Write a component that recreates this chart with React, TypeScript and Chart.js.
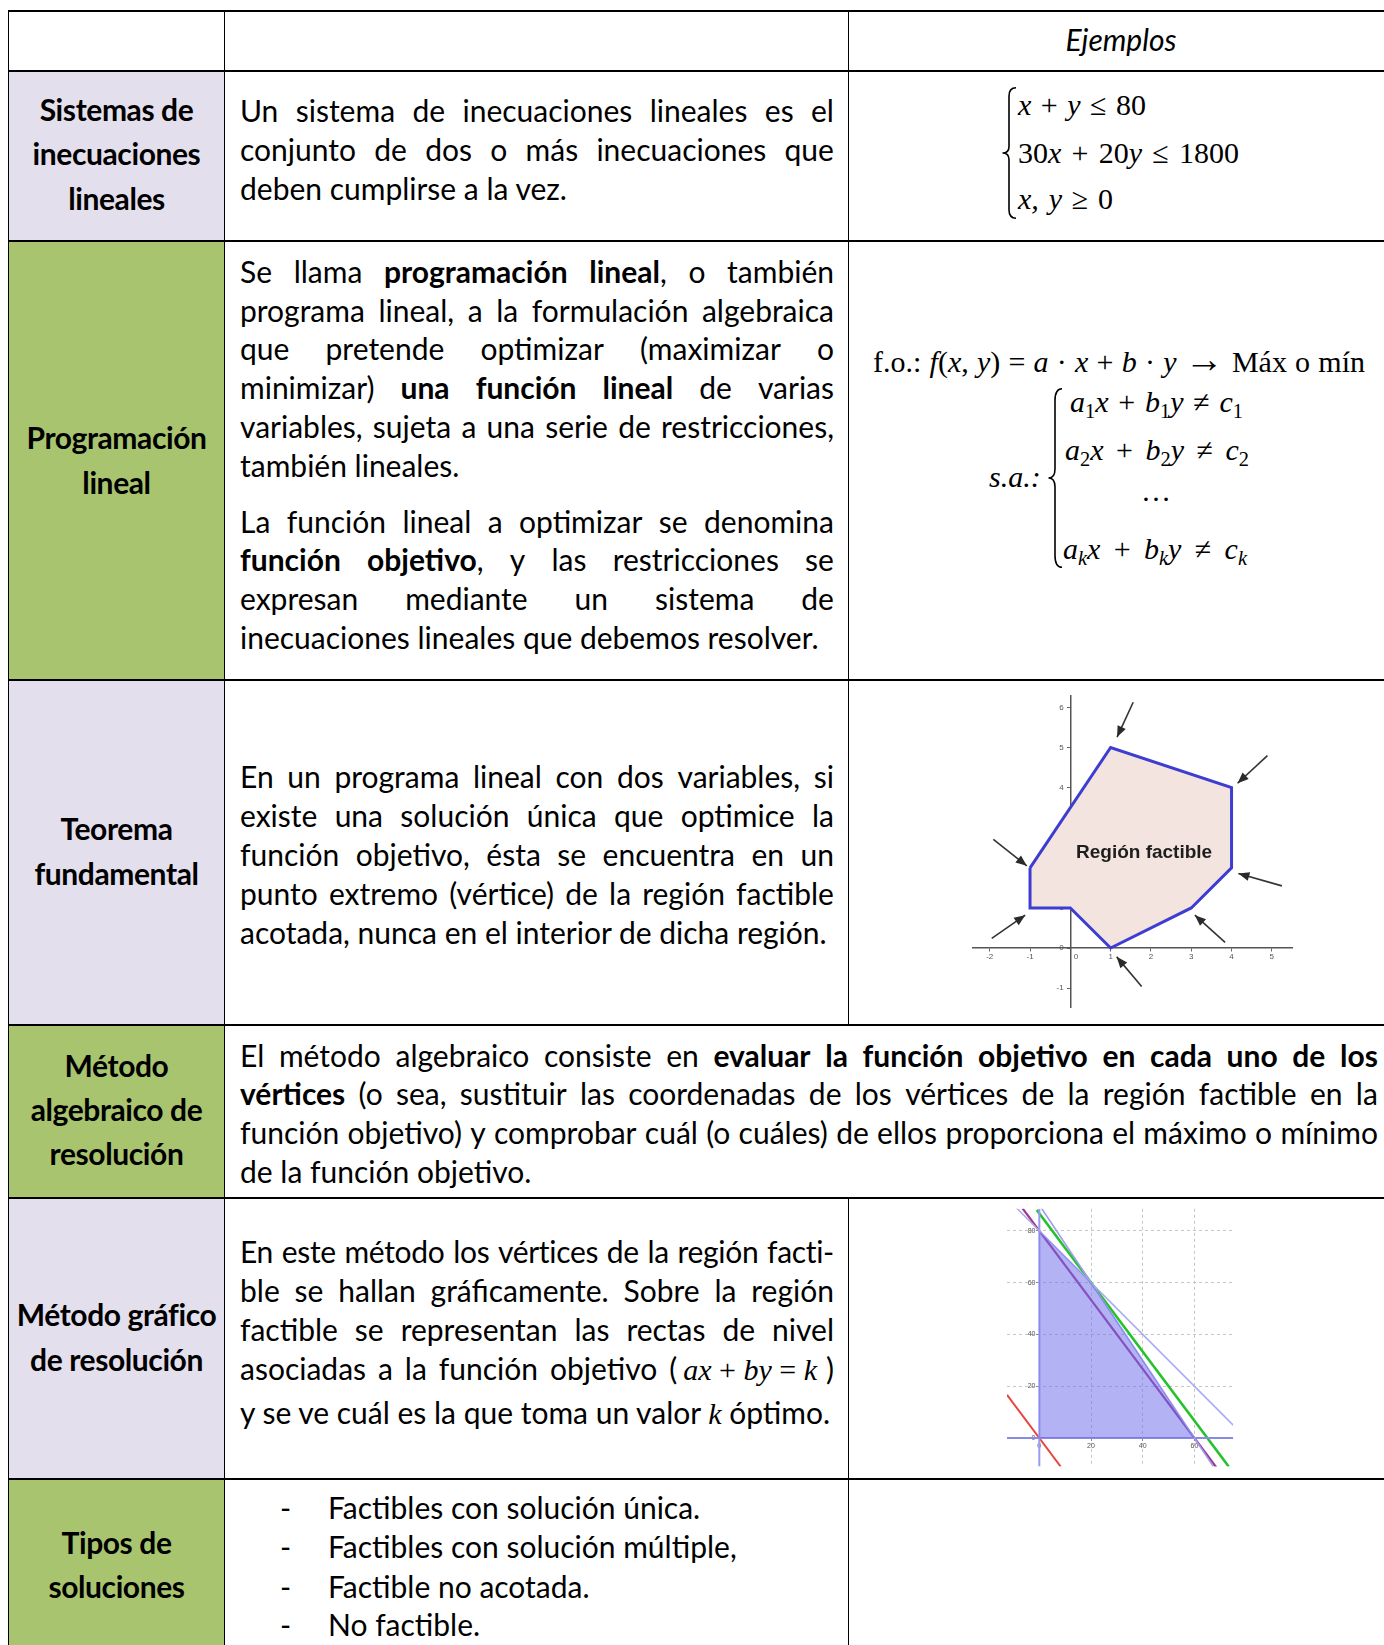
import React, { useEffect, useRef } from 'react';
import { Chart, registerables } from 'chart.js';
Chart.register(...registerables);
Chart.defaults.font.family = "'Liberation Sans', Arial, sans-serif";

// ---------- Chart 1: Región factible (Teorema fundamental) ----------
const POLY_X = [-1, 1, 4, 4, 3, 1, 0, -1, -1];
const POLY_Y = [2, 5, 4, 2, 1, 0, 1, 1, 2];
const ARROW_FROM_X = [1.56, 4.89, -1.91, 5.25, 3.84, 1.77, -1.95];
const ARROW_FROM_Y = [6.13, 4.8, 2.71, 1.55, 0.14, -0.96, 0.24];
const ARROW_TO_X = [1.16, 4.15, -1.08, 4.17, 3.09, 1.15, -1.12];
const ARROW_TO_Y = [5.26, 4.11, 2.05, 1.86, 0.82, -0.22, 0.82];
const FEAS_X_TICKS = [-2, -1, 0, 1, 2, 3, 4, 5];
const FEAS_Y_TICKS = [-1, 0, 1, 2, 3, 4, 5, 6];
const FEAS_X_RANGE = [-2.41, 5.52];
const FEAS_Y_RANGE = [-1.47, 6.3];
const FEAS_LABEL = 'Región factible';
const FEAS_LABEL_AT = [1.83, 2.37];

// ---------- Chart 2: Método gráfico ----------
const REGION_X = [0, 0, 20, 60, 0];
const REGION_Y = [0, 80, 60, 0, 0];
const C1_X = [-9, 75]; // x + y = 80
const C1_Y = [89, 5];
const C2_X = [0.5, 68]; // 3x + 2y = 180
const C2_Y = [89.25, -12];
const K240_X = [-6.5, 68.5]; // 4x + 3y = 240
const K240_Y = [88.67, -11.33];
const K260_X = [-1, 73.25]; // 4x + 3y = 260
const K260_Y = [88, -11];
const K0_X = [-12.5, 8.25]; // 4x + 3y = 0
const K0_Y = [16.67, -11];
const AXIS_X_X = [-12.5, 75];
const AXIS_X_Y = [0, 0];
const AXIS_Y_X = [0, 0];
const AXIS_Y_Y = [-11, 88.5];
const GRAF_X_TICKS = [0, 20, 40, 60];
const GRAF_Y_TICKS = [0, 20, 40, 60, 80];
const GRAF_X_RANGE = [-12.5, 75];
const GRAF_Y_RANGE = [-11, 88.5];

const pts = (xs: number[], ys: number[]) => xs.map((x, i) => ({ x, y: ys[i] }));

const SANS = "Lato, 'Noto Sans', sans-serif";
const SERIF = "'Liberation Serif', 'Times New Roman', serif";
const FS = 30;
const LAV = '#E4DFEC';
const GRN = '#A9C46F';

const arrowHeads = {
  id: 'arrowHeads',
  afterDatasetsDraw(chart: any) {
    const { ctx } = chart;
    const xs = chart.scales.x;
    const ys = chart.scales.y;
    ctx.save();
    ctx.fillStyle = '#2a2a2a';
    ARROW_TO_X.forEach((tx, i) => {
      const x1 = xs.getPixelForValue(tx);
      const y1 = ys.getPixelForValue(ARROW_TO_Y[i]);
      const x0 = xs.getPixelForValue(ARROW_FROM_X[i]);
      const y0 = ys.getPixelForValue(ARROW_FROM_Y[i]);
      const a = Math.atan2(y1 - y0, x1 - x0);
      const len = 11;
      const half = 4.5;
      const bx = x1 - len * Math.cos(a);
      const by = y1 - len * Math.sin(a);
      ctx.beginPath();
      ctx.moveTo(x1, y1);
      ctx.lineTo(bx + half * Math.sin(a), by - half * Math.cos(a));
      ctx.lineTo(bx - half * Math.sin(a), by + half * Math.cos(a));
      ctx.closePath();
      ctx.fill();
    });
    ctx.restore();
  },
};

const regionLabel = {
  id: 'regionLabel',
  afterDatasetsDraw(chart: any) {
    const { ctx } = chart;
    const px = chart.scales.x.getPixelForValue(FEAS_LABEL_AT[0]);
    const py = chart.scales.y.getPixelForValue(FEAS_LABEL_AT[1]);
    ctx.save();
    ctx.font = "bold 19px 'Liberation Sans', Arial, sans-serif";
    ctx.fillStyle = '#1e1e1e';
    ctx.textAlign = 'center';
    ctx.textBaseline = 'middle';
    ctx.fillText(FEAS_LABEL, px, py);
    ctx.restore();
  },
};

function FeasibleChart() {
  const ref = useRef<HTMLCanvasElement | null>(null);
  useEffect(() => {
    if (!ref.current) return;
    const arrows = ARROW_FROM_X.map((x0, i) => ({
      data: [
        { x: x0, y: ARROW_FROM_Y[i] },
        { x: ARROW_TO_X[i], y: ARROW_TO_Y[i] },
      ],
      showLine: true,
      borderColor: '#333',
      borderWidth: 1.6,
      pointRadius: 0,
      fill: false,
    }));
    const chart = new Chart(ref.current, {
      type: 'scatter',
      data: {
        datasets: [
          {
            data: pts(POLY_X, POLY_Y),
            showLine: true,
            fill: 'shape',
            backgroundColor: '#F3E4E0',
            borderColor: '#3D3DD2',
            borderWidth: 3,
            pointRadius: 0,
            borderJoinStyle: 'miter',
          },
          ...arrows,
        ],
      } as any,
      options: {
        animation: false,
        responsive: false,
        devicePixelRatio: 1,
        events: [],
        layout: { padding: { left: 10.2, right: 10.2, top: 10.4, bottom: 10 } },
        plugins: { legend: { display: false }, tooltip: { enabled: false } },
        scales: {
          x: {
            type: 'linear',
            min: FEAS_X_RANGE[0],
            max: FEAS_X_RANGE[1],
            position: { y: 0 },
            afterBuildTicks: (axis: any) => {
              axis.ticks = FEAS_X_TICKS.map((v) => ({ value: v }));
            },
            grid: { drawOnChartArea: false, tickLength: 3, color: '#666' },
            border: { color: '#555', width: 1.5 },
            ticks: {
              autoSkip: false,
              maxRotation: 0,
              padding: 1,
              color: '#555',
              font: { size: 8 },
              callback: (v: any) => (v === 0 ? '     0' : String(v)),
            },
          },
          y: {
            type: 'linear',
            min: FEAS_Y_RANGE[0],
            max: FEAS_Y_RANGE[1],
            position: { x: 0 },
            afterBuildTicks: (axis: any) => {
              axis.ticks = FEAS_Y_TICKS.map((v) => ({ value: v }));
            },
            grid: { drawOnChartArea: false, tickLength: 3, color: '#666' },
            border: { color: '#555', width: 1.5 },
            ticks: {
              autoSkip: false,
              color: '#555',
              font: { size: 8 },
              callback: (v: any) => String(v) + '   ',
            },
          },
        },
      } as any,
      plugins: [arrowHeads, regionLabel],
    });
    return () => chart.destroy();
  }, []);
  return (
    <canvas
      ref={ref}
      width={340}
      height={332}
      style={{ position: 'absolute', left: 963, top: 685, width: 340, height: 332 }}
    />
  );
}

function GraphChart() {
  const ref = useRef<HTMLCanvasElement | null>(null);
  useEffect(() => {
    if (!ref.current) return;
    const line = (xs: number[], ys: number[], color: string, w: number) => ({
      data: pts(xs, ys),
      showLine: true,
      borderColor: color,
      borderWidth: w,
      pointRadius: 0,
      fill: false,
    });
    const gridColor = (c: any) => (c.tick && c.tick.value === 0 ? 'rgba(0,0,0,0)' : '#c6c6c6');
    const chart = new Chart(ref.current, {
      type: 'scatter',
      data: {
        datasets: [
          {
            data: pts(REGION_X, REGION_Y),
            showLine: true,
            fill: 'shape',
            backgroundColor: 'rgba(108,108,236,0.52)',
            borderColor: 'rgba(0,0,0,0)',
            borderWidth: 0,
            pointRadius: 0,
          },
          line(C1_X, C1_Y, '#aeaaf0', 1.6),
          line(C2_X, C2_Y, '#9c9cf0', 1.6),
          line(AXIS_X_X, AXIS_X_Y, '#8a8ae6', 2),
          line(AXIS_Y_X, AXIS_Y_Y, '#9a9aee', 2),
          line(K240_X, K240_Y, '#a0368e', 2.2),
          line(K260_X, K260_Y, '#25c22c', 2.6),
          line(K0_X, K0_Y, '#e8453f', 2),
        ],
      } as any,
      options: {
        animation: false,
        responsive: false,
        devicePixelRatio: 1,
        events: [],
        layout: { padding: { left: 10, right: 9.8, top: 8.8, bottom: 8.5 } },
        plugins: { legend: { display: false }, tooltip: { enabled: false } },
        scales: {
          x: {
            type: 'linear',
            min: GRAF_X_RANGE[0],
            max: GRAF_X_RANGE[1],
            position: { y: 0 },
            afterBuildTicks: (axis: any) => {
              axis.ticks = GRAF_X_TICKS.map((v) => ({ value: v }));
            },
            grid: { color: gridColor, tickLength: 3, tickColor: '#888', lineWidth: 1 },
            border: { display: false, dash: [3, 3] },
            ticks: { autoSkip: false, maxRotation: 0, padding: 1, color: '#555', font: { size: 7 } },
          },
          y: {
            type: 'linear',
            min: GRAF_Y_RANGE[0],
            max: GRAF_Y_RANGE[1],
            position: { x: 0 },
            afterBuildTicks: (axis: any) => {
              axis.ticks = GRAF_Y_TICKS.map((v) => ({ value: v }));
            },
            grid: { color: gridColor, tickLength: 3, tickColor: '#888', lineWidth: 1 },
            border: { display: false, dash: [3, 3] },
            ticks: {
              autoSkip: false,
              color: '#555',
              font: { size: 7 },
              callback: (v: any) => String(v) + '  ',
            },
          },
        },
      } as any,
    });
    return () => chart.destroy();
  }, []);
  return (
    <canvas
      ref={ref}
      width={246}
      height={275}
      style={{ position: 'absolute', left: 997, top: 1200, width: 246, height: 275 }}
    />
  );
}

// ---------- text helpers ----------
const lineBox = (y: number, x: number, w: number) =>
  ({
    position: 'absolute',
    left: x,
    top: y - 19,
    width: w,
    height: 36,
    lineHeight: '36px',
    fontFamily: SANS,
    fontSize: FS,
    color: '#000',
    whiteSpace: 'nowrap',
  } as any);

// left-aligned / centred line
function Ln({ y, x = 240, w = 594, c, center = false, italic = false }: any) {
  return (
    <div style={{ ...lineBox(y, x, w), textAlign: center ? 'center' : 'left', fontStyle: italic ? 'italic' : 'normal' }}>
      {c}
    </div>
  );
}

// justified line: words spread with flex space-between
function J({ y, x = 240, w = 594, words, ls = 0 }: any) {
  const list = typeof words === 'string' ? words.split(' ') : words;
  return (
    <div style={{ ...lineBox(y, x, w), display: 'flex', justifyContent: 'space-between', letterSpacing: ls }}>
      {list.map((wd: any, i: number) => (
        <span key={i}>{wd}</span>
      ))}
    </div>
  );
}
const B = (s: string) => <b>{s}</b>;
const sp = (s: string) => s.split(' ');

function Lbl({ y, c }: any) {
  return (
    <div
      style={{
        position: 'absolute',
        left: 9,
        width: 215,
        top: y - 21,
        height: 40,
        lineHeight: '40px',
        textAlign: 'center',
        fontFamily: SANS,
        fontWeight: 700,
        fontSize: FS,
        letterSpacing: -0.4,
        color: '#000',
        whiteSpace: 'nowrap',
      }}
    >
      {c}
    </div>
  );
}

function ML({ b, x, w, j = false, center = false, c }: any) {
  const align = j ? 'justify' : center ? 'center' : 'left';
  return (
    <div
      style={{
        position: 'absolute',
        left: x,
        top: b - 30.1,
        width: w,
        height: 40,
        lineHeight: '40px',
        fontFamily: SERIF,
        fontSize: 30,
        color: '#000',
        textAlign: align as any,
        textAlignLast: align as any,
      }}
    >
      {c}
    </div>
  );
}

const I = ({ c }: any) => <span style={{ fontStyle: 'italic' }}>{c}</span>;
const Sub = ({ c }: any) => (
  <span style={{ fontSize: '0.68em', position: 'relative', top: '0.28em' }}>{c}</span>
);

function Brace({ x, y, w, h }: any) {
  const m = h / 2;
  const cx = w * 0.5;
  const d = `M ${w} 0.8 Q ${cx} 0.8 ${cx} ${h * 0.07} L ${cx} ${m - h * 0.05} Q ${cx} ${m} 0.5 ${m} Q ${cx} ${m} ${cx} ${m + h * 0.05} L ${cx} ${h - h * 0.07} Q ${cx} ${h - 0.8} ${w} ${h - 0.8}`;
  return (
    <svg style={{ position: 'absolute', left: x, top: y }} width={w} height={h}>
      <path d={d} fill="none" stroke="#000" strokeWidth={1.6} />
    </svg>
  );
}

const HLINES = [10, 70, 240, 679, 1024, 1197, 1478];
const LIST_ITEMS = ['Factibles con solución única.', 'Factibles con solución múltiple,', 'Factible no acotada.', 'No factible.'];
const LIST_Y = [1507.9, 1546.7, 1586.5, 1625.4];

export default function App() {
  const bgRows = [
    { t: 72, b: 240, c: LAV },
    { t: 242, b: 679, c: GRN },
    { t: 681, b: 1024, c: LAV },
    { t: 1026, b: 1197, c: GRN },
    { t: 1199, b: 1478, c: LAV },
    { t: 1480, b: 1645, c: GRN },
  ];
  const mathSerif = { fontFamily: SERIF, fontStyle: 'italic', fontSize: 30 } as any;
  return (
    <div
      style={{
        position: 'absolute',
        left: 0,
        top: 0,
        width: 1384,
        height: 1645,
        overflow: 'hidden',
        background: '#fff',
      }}
    >
      {bgRows.map((r, i) => (
        <div
          key={'bg' + i}
          style={{ position: 'absolute', left: 9, top: r.t, width: 215, height: r.b - r.t, background: r.c }}
        />
      ))}
      {HLINES.map((y, i) => (
        <div
          key={'h' + i}
          style={{ position: 'absolute', left: 8, top: y, width: 1400, height: 2, background: '#000' }}
        />
      ))}
      <div style={{ position: 'absolute', left: 8, top: 10, width: 1, height: 1640, background: '#000' }} />
      <div style={{ position: 'absolute', left: 224, top: 10, width: 1, height: 1640, background: '#000' }} />
      <div style={{ position: 'absolute', left: 848, top: 10, width: 1, height: 1015, background: '#000' }} />
      <div style={{ position: 'absolute', left: 848, top: 1197, width: 1, height: 450, background: '#000' }} />

      {/* header */}
      <Ln y={39.9} x={849} w={544} center italic c="Ejemplos" />

      {/* row 1 */}
      <Lbl y={110.2} c="Sistemas de" />
      <Lbl y={154.2} c="inecuaciones" />
      <Lbl y={199.4} c="lineales" />
      <J y={111.2} words="Un sistema de inecuaciones lineales es el" />
      <J y={150.1} words="conjunto de dos o más inecuaciones que" />
      <Ln y={188.9} c="deben cumplirse a la vez." />
      <Brace x={1002} y={87} w={14} h={132} />
      <ML b={115} x={1018} w={128} j c={<><I c="x" /> + <I c="y" /> ≤ 80</>} />
      <ML b={163} x={1018} w={221} j c={<>30<I c="x" /> + 20<I c="y" /> ≤ 1800</>} />
      <ML b={209.5} x={1018} w={95} j c={<><I c="x," /> <I c="y" /> ≥ 0</>} />

      {/* row 2 */}
      <Lbl y={437.6} c="Programación" />
      <Lbl y={482.7} c="lineal" />
      <J y={271.8} words={['Se', 'llama', B('programación'), <><b>lineal</b>,</>, 'o', 'también']} />
      <J y={310.6} words="programa lineal, a la formulación algebraica" />
      <J y={349.4} words="que pretende optimizar (maximizar o" />
      <J y={388.2} words={['minimizar)', B('una'), B('función'), B('lineal'), 'de', 'varias']} />
      <J y={427.1} words="variables, sujeta a una serie de restricciones," />
      <Ln y={465.9} c="también lineales." />
      <J y={521.5} words="La función lineal a optimizar se denomina" />
      <J y={560.3} words={[B('función'), <><b>objetivo</b>,</>, 'y', 'las', 'restricciones', 'se']} />
      <J y={599.2} words="expresan mediante un sistema de" />
      <Ln y={638} c="inecuaciones lineales que debemos resolver." />
      <ML
        b={372}
        x={873}
        w={492}
        j
        c={
          <>
            f.o.: <I c="f" />(<I c="x" />, <I c="y" />) = <I c="a" /> · <I c="x" /> + <I c="b" /> · <I c="y" />{' '}
            <span style={{ fontSize: '1.3em', lineHeight: 0 }}>→</span> Máx o mín
          </>
        }
      />
      <ML b={487} x={989} w={60} c={<I c="s.a.:" />} />
      <Brace x={1048} y={388} w={14} h={180} />
      <ML b={412} x={1070} w={173} j c={<><I c="a" /><Sub c="1" /><I c="x" /> + <I c="b" /><Sub c="1" /><I c="y" /> ≠ <I c="c" /><Sub c="1" /></>} />
      <ML b={460} x={1065} w={184} j c={<><I c="a" /><Sub c="2" /><I c="x" /> + <I c="b" /><Sub c="2" /><I c="y" /> ≠ <I c="c" /><Sub c="2" /></>} />
      <ML b={501} x={1116} w={80} center c="…" />
      <ML b={559} x={1063} w={184} j c={<><I c="a" /><Sub c={<i>k</i>} /><I c="x" /> + <I c="b" /><Sub c={<i>k</i>} /><I c="y" /> ≠ <I c="c" /><Sub c={<i>k</i>} /></>} />

      {/* row 3 */}
      <Lbl y={829} c="Teorema" />
      <Lbl y={874} c="fundamental" />
      <J y={776.5} words="En un programa lineal con dos variables, si" />
      <J y={816.4} words="existe una solución única que optimice la" />
      <J y={855.2} words="función objetivo, ésta se encuentra en un" />
      <J y={894} words="punto extremo (vértice) de la región factible" />
      <Ln y={932.8} c="acotada, nunca en el interior de dicha región." />

      {/* row 4 */}
      <Lbl y={1066} c="Método" />
      <Lbl y={1110.2} c="algebraico de" />
      <Lbl y={1154.2} c="resolución" />
      <J
        y={1055.6}
        w={1138}
        words={[...sp('El método algebraico consiste en'), ...sp('evaluar la función objetivo en cada uno de los').map(B)]}
      />
      <J
        y={1094.4}
        w={1138}
        words={[B('vértices'), ...sp('(o sea, sustituir las coordenadas de los vértices de la región factible en la')]}
      />
      <J y={1133.2} w={1138} words="función objetivo) y comprobar cuál (o cuáles) de ellos proporciona el máximo o mínimo" />
      <Ln y={1172.1} w={1138} c="de la función objetivo." />

      {/* row 5 */}
      <Lbl y={1314.8} c="Método gráfico" />
      <Lbl y={1359.9} c="de resolución" />
      <J y={1251.8} ls={-0.3} words="En este método los vértices de la región facti-" />
      <J y={1290.6} words="ble se hallan gráficamente. Sobre la región" />
      <J y={1329.5} words="factible se representan las rectas de nivel" />
      <J
        y={1369.3}
        words={[
          ...sp('asociadas a la función objetivo'),
          <>
            (
            <span style={{ ...mathSerif, margin: '0 9px 0 6px' }}>
              ax<span style={{ fontStyle: 'normal' }}> + </span>by<span style={{ fontStyle: 'normal' }}> = </span>k
            </span>
            )
          </>,
        ]}
      />
      <Ln
        y={1413.4}
        c={
          <>
            y se ve cuál es la que toma un valor <span style={mathSerif}>k</span> óptimo.
          </>
        }
      />

      {/* row 6 */}
      <Lbl y={1542.5} c="Tipos de" />
      <Lbl y={1586.5} c="soluciones" />
      {LIST_ITEMS.map((t, i) => (
        <React.Fragment key={'li' + i}>
          <Ln y={LIST_Y[i]} x={280} w={20} c="-" />
          <Ln y={LIST_Y[i]} x={328} w={540} c={t} />
        </React.Fragment>
      ))}

      <FeasibleChart />
      <GraphChart />
    </div>
  );
}
